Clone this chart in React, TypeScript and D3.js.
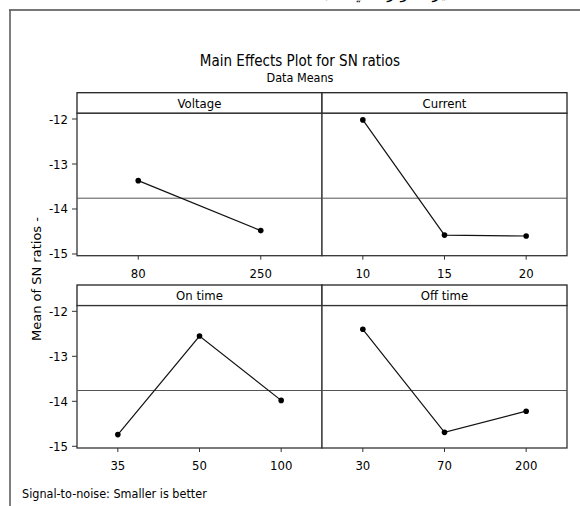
import React from 'react';
import * as d3 from 'd3';

interface IFactor {
  name: string;
  levels: string[];
  means: number[];
}

const voltageLevels = ['80', '250'];
const voltageMeans = [-13.37, -14.48];
const currentLevels = ['10', '15', '20'];
const currentMeans = [-12.02, -14.58, -14.6];
const onTimeLevels = ['35', '50', '100'];
const onTimeMeans = [-14.74, -12.55, -13.98];
const offTimeLevels = ['30', '70', '200'];
const offTimeMeans = [-12.4, -14.69, -14.22];
const yTicks = [-12, -13, -14, -15];
const grandMean = -13.76;

const factors: IFactor[] = [
  { name: 'Voltage', levels: voltageLevels, means: voltageMeans },
  { name: 'Current', levels: currentLevels, means: currentMeans },
  { name: 'On time', levels: onTimeLevels, means: onTimeMeans },
  { name: 'Off time', levels: offTimeLevels, means: offTimeMeans },
];

const W = 580;
const H = 506;
const narrow = '"Liberation Sans Narrow", "DejaVu Sans Condensed", "Liberation Sans", sans-serif';
const colX = [77, 322, 567];
const rowTop = [92.7, 285];
const stripH = 20.6;
const plotH = 142.4;

const Panel: React.FC<{ f: IFactor; col: number; row: number }> = ({ f, col, row }) => {
  const x0 = colX[col];
  const x1 = colX[col + 1];
  const top = rowTop[row] + stripH;
  const bottom = top + plotH;
  const xScale = d3.scalePoint<string>().domain(f.levels).range([x0, x1]).padding(0.5);
  const yScale = d3.scaleLinear().domain([-15.038, -11.873]).range([bottom, top]);
  const line = d3
    .line<number>()
    .x((_, i) => xScale(f.levels[i]) || 0)
    .y((d) => yScale(d));
  return (
    <g>
      <rect x={x0} y={rowTop[row]} width={x1 - x0} height={stripH} fill="white" stroke="#222" strokeWidth={1.3} />
      <text x={(x0 + x1) / 2} y={rowTop[row] + 15} textAnchor="middle" fontSize={13} fontFamily={narrow}>
        {f.name}
      </text>
      <rect x={x0} y={top} width={x1 - x0} height={plotH} fill="white" stroke="#333" strokeWidth={1.3} />
      <line x1={x0} x2={x1} y1={yScale(grandMean)} y2={yScale(grandMean)} stroke="#555" strokeWidth={1} />
      <path d={line(f.means) || ''} fill="none" stroke="#111" strokeWidth={1.2} />
      {f.means.map((m, i) => (
        <circle key={i} cx={xScale(f.levels[i])} cy={yScale(m)} r={2.8} fill="#000" />
      ))}
      {f.levels.map((l) => (
        <g key={l}>
          <line x1={xScale(l)} x2={xScale(l)} y1={bottom} y2={bottom + 4} stroke="#333" />
          <text x={xScale(l)} y={bottom + 22} textAnchor="middle" fontSize={13} fontFamily={narrow}>
            {l}
          </text>
        </g>
      ))}
      {col === 0 &&
        yTicks.map((t) => (
          <g key={t}>
            <line x1={x0 - 5} x2={x0} y1={yScale(t)} y2={yScale(t)} stroke="#333" />
            <text x={x0 - 9} y={yScale(t) + 4.5} textAnchor="end" fontSize={13} fontFamily={narrow}>
              {t}
            </text>
          </g>
        ))}
    </g>
  );
};

const App: React.FC = () => {
  return (
    <svg width={W} height={H} style={{ position: 'absolute', left: 0, top: 0, background: 'white' }}>
      <rect width={W} height={H} fill="white" />
      <text x={385} y={-2} textAnchor="middle" fontSize={16} fontFamily="DejaVu Sans" direction="rtl">
        غير المؤثرة في نسبة
      </text>
      <line x1={9} x2={W} y1={10} y2={10} stroke="#777" strokeWidth={2} />
      <line x1={10} x2={10} y1={10} y2={H} stroke="#555" strokeWidth={1.5} />
      <text x={300} y={66} textAnchor="middle" fontSize={15} fontFamily={narrow}>
        Main Effects Plot for SN ratios
      </text>
      <text x={300} y={82} textAnchor="middle" fontSize={12.5} fontFamily={narrow}>
        Data Means
      </text>
      {factors.map((f, i) => (
        <Panel key={f.name} f={f} col={i % 2} row={Math.floor(i / 2)} />
      ))}
      <text
        transform="translate(41, 279) rotate(-90)"
        textAnchor="middle"
        fontSize={13}
        fontFamily="DejaVu Sans, Verdana, sans-serif"
      >
        Mean of SN ratios -
      </text>
      <text x={22} y={498} fontSize={12.5} fontFamily={narrow}>
        Signal-to-noise: Smaller is better
      </text>
    </svg>
  );
};

export default App;
